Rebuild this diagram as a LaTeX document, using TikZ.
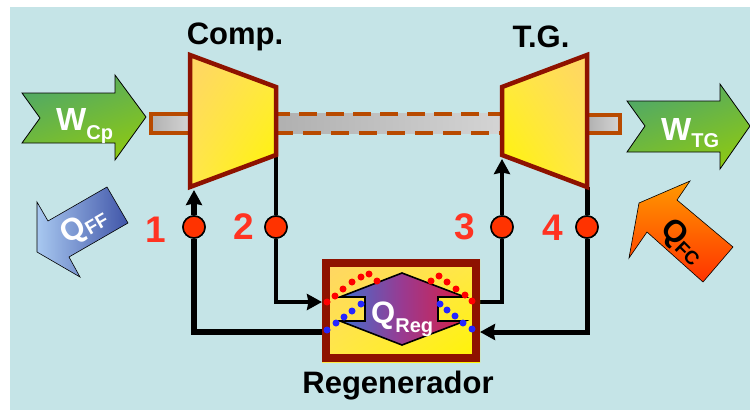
\documentclass[tikz,border=0pt]{standalone}
\usepackage{fontspec}
\setmainfont{Liberation Sans}
\usetikzlibrary{arrows.meta,shadings}
\definecolor{bgc}{HTML}{C5E4E7}
\definecolor{brd}{HTML}{8E1200}
\definecolor{shaftc}{HTML}{B84A00}
\definecolor{ptc}{HTML}{FF3300}
\definecolor{lblred}{HTML}{FF3322}
\definecolor{yA}{HTML}{FFD466}
\definecolor{yB}{HTML}{FFE84A}
\definecolor{yC}{HTML}{FFF500}
\definecolor{gA}{HTML}{4FA868}
\definecolor{gB}{HTML}{8CC814}
\definecolor{bA}{HTML}{A8C8F0}
\definecolor{bB}{HTML}{4055A8}
\definecolor{oA}{HTML}{FF9900}
\definecolor{oB}{HTML}{FF3300}
\definecolor{mA}{HTML}{3F6FD0}
\definecolor{mB}{HTML}{9A3A90}
\definecolor{mC}{HTML}{D81F45}
\definecolor{sA}{HTML}{B0B0B0}
\definecolor{sB}{HTML}{D4D4D4}
\newcommand{\lowsub}[2]{\raisebox{#1}{\fontsize{20}{20}\selectfont #2}}
\tikzset{
  conn/.style={draw=black,line width=4.5pt},
  connheavy/.style={draw=black,line width=6pt},
  tipped/.style={-{Stealth[length=15pt,width=16pt,inset=1.5pt]}},
  port/.style={circle,draw=black,fill=ptc,line width=1.5pt,minimum size=22pt,inner sep=0pt},
  turb/.style={draw=brd,line width=4.5pt,line join=miter},
  num/.style={text=lblred,font=\bfseries\fontsize{37}{37}\selectfont,inner sep=0pt},
  title/.style={text=black,font=\bfseries\fontsize{31}{31}\selectfont,inner sep=0pt},
  greenarrow/.style={draw=black,line width=.8pt,left color=gA,right color=gB,shading angle=20},
  wlab/.style={text=white,font=\bfseries\fontsize{32}{32}\selectfont,inner sep=0pt,anchor=base west},
  rdot/.style={fill=red,draw=none},
  bdot/.style={fill=blue!85!white,draw=none},
  shaftbar/.style={draw=none,left color=sA,right color=sB},
}
\begin{document}
\begin{tikzpicture}[x=1pt,y=-1pt]
\useasboundingbox (0,0) rectangle (750,410);
\fill[bgc] (10,7) rectangle (750,410);
% shafts
\shade[shaftbar] (276,113) rectangle (502,133);
\draw[shaftc,line width=4pt,dash pattern=on 18pt off 9pt,dash phase=6pt] (278,113.5) -- (502,113.5);
\draw[shaftc,line width=4pt,dash pattern=on 18pt off 10pt,dash phase=3pt] (278,132.5) -- (502,132.5);
\shade[shaftbar] (150,114) rectangle (190,133);
\draw[shaftc,line width=3.5pt] (190,114) -- (151,114) -- (151,133) -- (190,133);
\shade[shaftbar] (587,114) rectangle (620,133);
\draw[shaftc,line width=3.5pt] (587,115) -- (620,115) -- (620,133) -- (587,133);
% coordinates
\coordinate (compIn) at (194,190);
\coordinate (compOut) at (276,155);
\coordinate (tgIn) at (502,159);
\coordinate (tgOut) at (587,187);
\coordinate (rA) at (322,259);
\coordinate (rB) at (480,362);
\coordinate (rIn) at (322,302);
\coordinate (rOut) at (476,302);
\coordinate (rHotIn) at (480,332);
\coordinate (rColdOut) at (326,332);
\node[port] (p1) at (194,227) {};
\node[port] (p2) at (276,227) {};
\node[port] (p3) at (502,227) {};
\node[port] (p4) at (587,227) {};
% connectors
\draw[connheavy,line width=5.5pt] (rColdOut) -| (p1);
\draw[connheavy,tipped] (p1) -- (compIn);
\draw[conn] (compOut) -- (p2);
\draw[conn,tipped] (p2) |- (rIn);
\draw[conn] (rOut) -| (p3);
\draw[conn,tipped] (p3) -- (tgIn);
\draw[conn,line width=5pt] (tgOut) -- (p4);
\draw[conn,line width=5pt,tipped] (p4) |- (rHotIn);
\node[port] at (p1) {};
\node[port] at (p2) {};
\node[port] at (p3) {};
\node[port] at (p4) {};
% compressor and turbine
\shade[upper left=yA,upper right=yB,lower left=yB,lower right=yC]
  (190,55) -- (276,87) -- (276,155) -- (190,187) -- cycle;
\draw[turb] (190,55) -- (276,87) -- (276,155) -- (190,187) -- cycle;
\shade[upper left=yB,upper right=yA,lower left=yC,lower right=yB]
  (587,55) -- (502,87) -- (502,155) -- (587,187) -- cycle;
\draw[turb] (587,55) -- (502,87) -- (502,155) -- (587,187) -- cycle;
\node[title] (comptitle) at (235,37) {Comp.};
\node[title] (tgtitle) at (541,37) {T.G.};
% numbers
\node[num] (n1) at (156,230) {1};
\node[num] (n2) at (244,227) {2};
\node[num] (n3) at (465,227) {3};
\node[num] (n4) at (553,228) {4};
% work arrows
\path[greenarrow] (22,93) -- (115,93) -- (115,75) -- (146,117) -- (115,160) -- (115,143) -- (22,143) -- (40,118) -- cycle;
\node[wlab] (wcp) at (56,130) {W\lowsub{-9pt}{Cp}};
\path[greenarrow] (627,101) -- (720,101) -- (720,84) -- (750,126) -- (720,169) -- (720,152) -- (627,152) -- (645,126) -- cycle;
\node[wlab] (wtg) at (661,140) {W\lowsub{-7pt}{TG}};
% heat arrows
\path[draw=black,line width=.6pt,left color=bA,right color=bB]
 (37,202) -- (48,221) -- (107,187) -- (128,223) -- (69,257) -- (80,277) -- (37,252) -- cycle;
\node[text=white,rotate=30,font=\bfseries\fontsize{31}{31}\selectfont,inner sep=0pt] (qff) at (84,226) {Q\raisebox{-3pt}{\fontsize{19}{19}\selectfont FF}};
\path[draw=black,line width=.6pt,top color=oA,bottom color=oB]
 (639,203) -- (690,181) -- (677,200) -- (733,247) -- (703,282) -- (647,232) -- (629,258) -- cycle;
\node[text=black,rotate=-45,font=\bfseries\fontsize{31}{31}\selectfont,inner sep=0pt] (qfc) at (682,242) {Q\raisebox{-3pt}{\fontsize{19}{19}\selectfont FC}};
% regenerator box
\shade[upper left=yA,upper right=yB,lower left=yB,lower right=yC] (rA) rectangle (rB);
\draw[brd,line width=8pt] (326,263) rectangle (476,358);
\shade[left color=mA,right color=mC,middle color=mB]
  (402,273) -- (465,297) -- (438,297) -- (438,321) -- (465,321) -- (402,345) -- (340,321) -- (365,321) -- (365,297) -- (340,297) -- cycle;
\draw[black,line width=1.6pt] (340,297) -- (402,273) -- (465,297) -- (438,297) -- (438,321) -- (465,321) -- (402,345) -- (340,321) -- (365,321) -- (365,297) -- cycle;
\foreach \x/\y in {327/302,335/296,343/289,352/282,361/277,369/274,377/281,431/281,439/276,447/282,456/289,465/295,472/301}
  \fill[rdot] (\x,\y) circle (3.5pt);
\foreach \x/\y in {327/330,336/323,344/317,352/311,361/304,440/304,447/310,455/316,463/323,472/329}
  \fill[bdot] (\x,\y) circle (3.5pt);
\node[wlab,font=\bfseries\fontsize{31}{31}\selectfont] (qreg) at (371,323) {Q\lowsub{-9pt}{Reg}};
\node[title] (regtitle) at (398,386) {Regenerador};
\end{tikzpicture}
\end{document}
